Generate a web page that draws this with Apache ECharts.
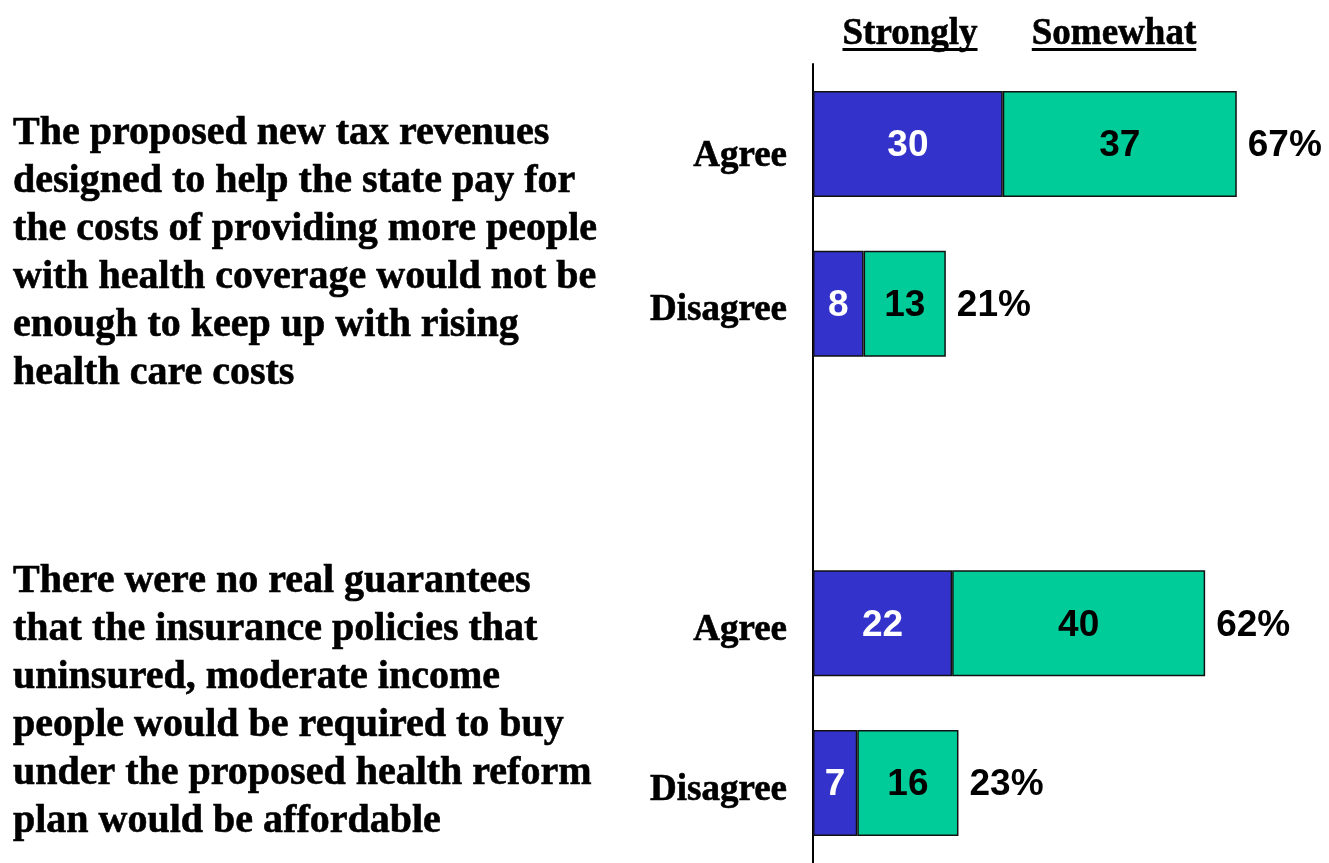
<!DOCTYPE html>
<html>
<head>
<meta charset="utf-8">
<script src="https://cdn.jsdelivr.net/npm/echarts@6/dist/echarts.min.js"></script>
<style>
  html, body { margin: 0; padding: 0; background: #fff; }
  #chart { width: 1329px; height: 863px; }
</style>
</head>
<body>
<div id="chart"></div>
<script>
// Survey responses: share who agree / disagree with each statement
const categories = ['Agree', 'Disagree', '', 'Agree', 'Disagree'];
const strongly = [30, 8, null, 22, 7];
const somewhat = [37, 13, null, 40, 16];
const totals = [67, 21, null, 62, 23];
const headers = ['Strongly', 'Somewhat'];
const statementA = [
  'The proposed new tax revenues',
  'designed to help the state pay for',
  'the costs of providing more people',
  'with health coverage would not be',
  'enough to keep up with rising',
  'health care costs'
];
const statementB = [
  'There were no real guarantees',
  'that the insurance policies that',
  'uninsured, moderate income',
  'people would be required to buy',
  'under the proposed health reform',
  'plan would be affordable'
];

const SERIF = '"Times New Roman", "Liberation Serif", serif';
const SANS = 'Arial, "Liberation Sans", sans-serif';
const BLUE = '#3333CC';
const GREEN = '#00CC99';

function textWidth(text, font) {
  const ctx = document.createElement('canvas').getContext('2d');
  ctx.font = font;
  return ctx.measureText(text).width;
}

const chart = echarts.init(document.getElementById('chart'), null, { renderer: 'canvas' });

// Underlined column headers above the bars
const headerFont = 'bold 37px ' + SERIF;
const headerX = [910, 1114];
const headerGraphics = [];
headers.forEach((h, i) => {
  const w = textWidth(h, headerFont);
  headerGraphics.push({
    type: 'text',
    x: headerX[i], y: 34,
    style: {
      text: h, font: headerFont, fill: '#000', stroke: '#000', lineWidth: 0.6,
      align: 'center', verticalAlign: 'middle'
    }
  });
  headerGraphics.push({
    type: 'rect',
    shape: { x: headerX[i] - w / 2, y: 48, width: w, height: 3 },
    style: { fill: '#000' }
  });
});

// Statement text to the left of each pair of bars
const statementFont = 'bold 40px ' + SERIF;
const statementGraphics = [
  { lines: statementA, top: 110 },
  { lines: statementB, top: 558 }
].map(s => ({
  type: 'text',
  x: 13, y: s.top,
  style: {
    text: s.lines.join('\n'), font: statementFont, fill: '#000',
    stroke: '#000', lineWidth: 0.6,
    lineHeight: 48, align: 'left', verticalAlign: 'top'
  }
}));

const valueLabel = color => ({
  show: true,
  position: 'inside',
  offset: [0, 2],
  color: color,
  fontFamily: SANS,
  fontWeight: 'bold',
  fontSize: 37,
  formatter: p => p.value
});

chart.setOption({
  animation: false,
  backgroundColor: '#fff',
  grid: { left: 813, right: 10, top: 64, bottom: -8.5, containLabel: false },
  xAxis: {
    type: 'value', min: 0, max: 80, show: false
  },
  yAxis: {
    type: 'category',
    inverse: true,
    data: categories,
    axisLine: { show: true, lineStyle: { color: '#000', width: 2 } },
    axisTick: { show: false },
    splitLine: { show: false },
    axisLabel: {
      color: '#000', fontFamily: SERIF, fontWeight: 'bold', fontSize: 37, margin: 26,
      verticalAlign: 'top', lineHeight: 14,
      textBorderColor: '#000', textBorderWidth: 0.6,
      // the first label sits a little lower than the others
      formatter: (value, index) => (index === 0 ? '{low|' + value + '}' : value),
      rich: {
        low: {
          fontFamily: SERIF, fontWeight: 'bold', fontSize: 37, color: '#000',
          textBorderColor: '#000', textBorderWidth: 0.6, lineHeight: 26
        }
      }
    }
  },
  series: [
    {
      name: headers[0], type: 'bar', stack: 'resp', barWidth: 106,
      data: strongly,
      itemStyle: { color: BLUE, borderColor: '#111', borderWidth: 1.5 },
      label: valueLabel('#fff'),
      z: 3
    },
    {
      name: headers[1], type: 'bar', stack: 'resp', barWidth: 106,
      data: somewhat,
      itemStyle: { color: GREEN, borderColor: '#111', borderWidth: 1.5 },
      label: valueLabel('#000'),
      z: 3
    },
    {
      name: 'Total', type: 'bar', stack: 'resp', barWidth: 106,
      data: totals.map(t => (t == null ? null : 0)),
      itemStyle: { color: 'rgba(0,0,0,0)', borderWidth: 0 },
      silent: true,
      label: {
        show: true, position: 'right', distance: 11, offset: [0, 2],
        color: '#000', fontFamily: SANS, fontWeight: 'bold', fontSize: 37,
        formatter: p => totals[p.dataIndex] + '%'
      },
      z: 4
    }
  ],
  graphic: headerGraphics.concat(statementGraphics)
});
</script>
</body>
</html>
